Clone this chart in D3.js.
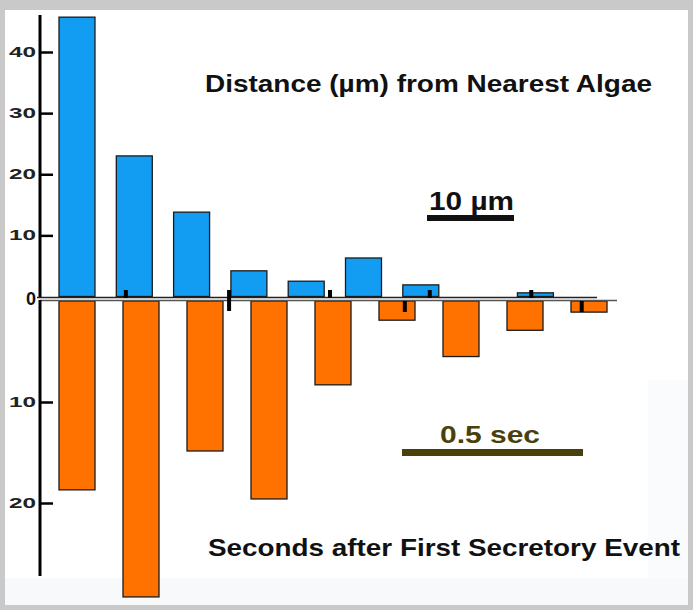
<!DOCTYPE html>
<html><head><meta charset="utf-8">
<script src="https://cdn.jsdelivr.net/npm/d3@7"></script>
<style>body{margin:0;background:#fff}svg{display:block}</style>
</head><body>
<script>
// ---- data ----
const distanceIdx = [1,2,3,4,5,6,7,8,9,10];
const distanceUm  = [45.7, 23.0, 13.8, 4.2, 2.5, 6.3, 1.9, 0, 0.6, 0];
const secondsIdx  = [1,2,3,4,5,6,7,8,9];
const secondsVal  = [18.7, 29.3, 14.85, 19.6, 8.3, 1.9, 5.5, 2.9, 1.1];
const upperTicks  = [0, 10, 20, 30, 40];
const lowerTicks  = [10, 20];
// small black event markers: position along baseline (0-100) and side
const markerPos   = [14.8, 32.6, 50.0, 62.9, 67.2, 84.7, 93.4];
const markerSide  = ["up", "both", "up", "down", "up", "up", "down"];
const titleTop    = "Distance (µm) from Nearest Algae";
const titleBottom = "Seconds after First Secretory Event";
const scaleUm     = "10 µm";
const scaleSec    = "0.5 sec";

const W = 700, H = 614;
const svg = d3.select("body").append("svg").attr("width", W).attr("height", H);

// frame
svg.append("rect").attr("x",0).attr("y",0).attr("width",693).attr("height",610).attr("fill","#c9c9c9");
svg.append("rect").attr("x",5).attr("y",10).attr("width",683).attr("height",595).attr("fill","#fff");
svg.append("rect").attr("x",5).attr("y",578).attr("width",683).attr("height",27).attr("fill","#f8f9fa");
svg.append("rect").attr("x",648).attr("y",380).attr("width",40).attr("height",198).attr("fill","#fafbfc");

// scales
const yUp = d3.scaleLinear().domain([0, 40]).range([296.5, 52]);
const yDn = d3.scaleLinear().domain([0, 20]).range([301, 503]);
const xBlue = d3.scaleBand().domain(distanceIdx).range([59, 610.7]).paddingInner(0.372).paddingOuter(0);
const xOrange = d3.scaleBand().domain(secondsIdx).range([59, 607]).paddingInner(0.4375).paddingOuter(0);
const xMark = d3.scaleLinear().domain([0, 100]).range([40, 620]);

const blue = "#139df2", orange = "#ff7200", edge = "#1b1b1b";

// blue bars
svg.append("g").selectAll("rect").data(distanceUm.map((v,i)=>({k:distanceIdx[i], v})).filter(d=>d.v>0))
  .join("rect")
  .attr("x", d=>xBlue(d.k)).attr("width", xBlue.bandwidth())
  .attr("y", d=>yUp(d.v)).attr("height", d=>yUp(0)-yUp(d.v))
  .attr("fill", blue).attr("stroke", edge).attr("stroke-width", 1.3);

// orange bars
svg.append("g").selectAll("rect").data(secondsVal.map((v,i)=>({k:secondsIdx[i], v})))
  .join("rect")
  .attr("x", d=>xOrange(d.k)).attr("width", xOrange.bandwidth())
  .attr("y", yDn(0)).attr("height", d=>yDn(d.v)-yDn(0))
  .attr("fill", orange).attr("stroke", edge).attr("stroke-width", 1.3);

// baselines
svg.append("line").attr("x1",37).attr("x2",597).attr("y1",297.5).attr("y2",297.5).attr("stroke","#222").attr("stroke-width",1.3);
svg.append("line").attr("x1",40).attr("x2",617).attr("y1",300.5).attr("y2",300.5).attr("stroke","#555").attr("stroke-width",1.6);

// markers
svg.append("g").selectAll("rect").data(markerPos.map((p,i)=>({p, s:markerSide[i]})))
  .join("rect")
  .attr("x", d=>xMark(d.p)-2).attr("width", 4)
  .attr("y", d=>d.s==="down" ? 301 : 290)
  .attr("height", d=>d.s==="up" ? 8 : (d.s==="down" ? 11 : 21))
  .attr("fill", "#000");

// axes
const axUp = d3.axisLeft(yUp).tickValues(upperTicks.filter(t=>t>0)).tickSize(-13).tickFormat(d3.format("d"));
const gUp = svg.append("g").attr("transform","translate(40,0)").call(axUp);
gUp.select(".domain").remove();
gUp.append("line").attr("x1",0).attr("x2",0).attr("y1",15).attr("y2",297).attr("stroke","#000").attr("stroke-width",3);

const axDn = d3.axisLeft(yDn).tickValues(lowerTicks).tickSize(-13).tickFormat(d3.format("d"));
const gDn = svg.append("g").attr("transform","translate(40,0)").call(axDn);
gDn.select(".domain").remove();
gDn.append("line").attr("x1",0).attr("x2",0).attr("y1",300).attr("y2",576).attr("stroke","#000").attr("stroke-width",3);

[gUp, gDn].forEach(g=>{
  g.selectAll(".tick line").attr("stroke","#000").attr("stroke-width",2.5);
  g.selectAll(".tick text").attr("x",-4).attr("fill","#222")
    .style("font-family","'Liberation Sans', Arial, sans-serif").style("font-weight","bold").style("font-size","14px")
    .attr("textLength",27).attr("lengthAdjust","spacingAndGlyphs");
});

// zero label
svg.append("text").attr("x",36).attr("y",305).attr("text-anchor","end")
  .style("font-family","'Liberation Sans', Arial, sans-serif").style("font-weight","bold").style("font-size","18px")
  .attr("fill","#111").text(upperTicks[0]);

// titles
const font = "'Liberation Sans', Arial, sans-serif";
svg.append("text").attr("x",205).attr("y",92).style("font-family",font).style("font-weight","bold").style("font-size","23px")
  .attr("textLength",447).attr("lengthAdjust","spacingAndGlyphs").attr("fill","#111").text(titleTop);
svg.append("text").attr("x",208).attr("y",556).style("font-family",font).style("font-weight","bold").style("font-size","24px")
  .attr("textLength",472).attr("lengthAdjust","spacingAndGlyphs").attr("fill","#111").text(titleBottom);

// scale bars
svg.append("text").attr("x",429).attr("y",210).style("font-family",font).style("font-weight","bold").style("font-size","26px")
  .attr("textLength",85).attr("lengthAdjust","spacingAndGlyphs").attr("fill","#111").text(scaleUm);
svg.append("rect").attr("x",427).attr("y",215).attr("width",87).attr("height",6).attr("fill","#111");
svg.append("text").attr("x",440).attr("y",443).style("font-family",font).style("font-weight","bold").style("font-size","24px")
  .attr("textLength",100).attr("lengthAdjust","spacingAndGlyphs").attr("fill","#4a400c").text(scaleSec);
svg.append("rect").attr("x",402).attr("y",449).attr("width",181).attr("height",7).attr("fill","#4a400c");
</script>
</body></html>
